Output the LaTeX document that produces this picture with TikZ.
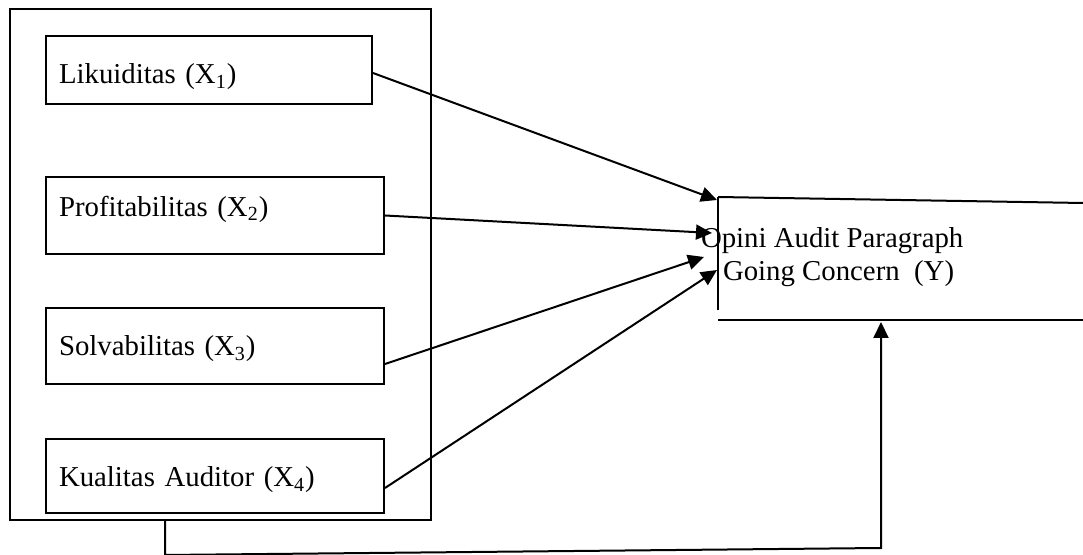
\documentclass[tikz,border=0pt]{standalone}
\usepackage{fontspec}
\setmainfont{Liberation Serif}
\usetikzlibrary{arrows.meta,positioning}
\tikzset{>={Triangle[length=8pt,width=7.5pt]}}
\tikzset{varbox/.style={draw,anchor=north west,inner xsep=6.5pt,align=left}}
\newcommand{\lowered}[2]{\raisebox{-#1}[\height][\depth]{#2}}

\begin{document}
\begin{tikzpicture}[x=0.5pt,y=-0.5pt,line width=1pt,font=\fontsize{14.4}{16.5}\selectfont]
    \useasboundingbox (0,0) rectangle (1083,555);
    % frame round the variables
    \node[draw,anchor=north west,minimum width=210.5pt,minimum height=255.5pt,inner sep=0] (grp) at (9,8) {};
    \node[varbox,text width=150pt,minimum height=34pt] (x1) at (45,35) {\lowered{3.5pt}{Likuiditas (X\textsubscript{1})}};
    \node[varbox,text width=156pt,minimum height=38.5pt] (x2) at (45,176) {\lowered{-3pt}{Profitabilitas (X\textsubscript{2})}};
    \node[varbox,text width=156pt,minimum height=38pt] (x3) at (45,307) {\lowered{1.5pt}{Solvabilitas (X\textsubscript{3})}};
    \node[varbox,text width=156pt,minimum height=37pt] (x4) at (45,438) {\lowered{2pt}{Kualitas Auditor (X\textsubscript{4})}};
    % dependent variable, open on the right
    \draw (718,197) -- (1083,203);
    \draw (718,197) -- (718,310);
    \draw (718,320) -- (1083,320);
    \node[anchor=west,align=left,inner sep=0] (y) at (700,257) {Opini Audit Paragraph\\\hspace*{11pt}Going Concern~ (Y)};
    \coordinate (t1) at (717,200);
    \coordinate (t2) at (712,233);
    \coordinate (t3) at (704,257);
    \coordinate (t4) at (717,270);
    \coordinate (t5) at (881,322);
    \draw[->] ([yshift=-1.5pt]x1.east) -- (t1);
    \draw[->] (x2.east) -- (t2);
    \draw[->] ([yshift=-9pt]x3.east) -- (t3);
    \draw[->] ([yshift=-6pt]x4.east) -- (t4);
    \draw[->] ([xshift=78pt]grp.south west) -- ++(0,34) -- (881,548) -- (t5);
\end{tikzpicture}
\end{document}
